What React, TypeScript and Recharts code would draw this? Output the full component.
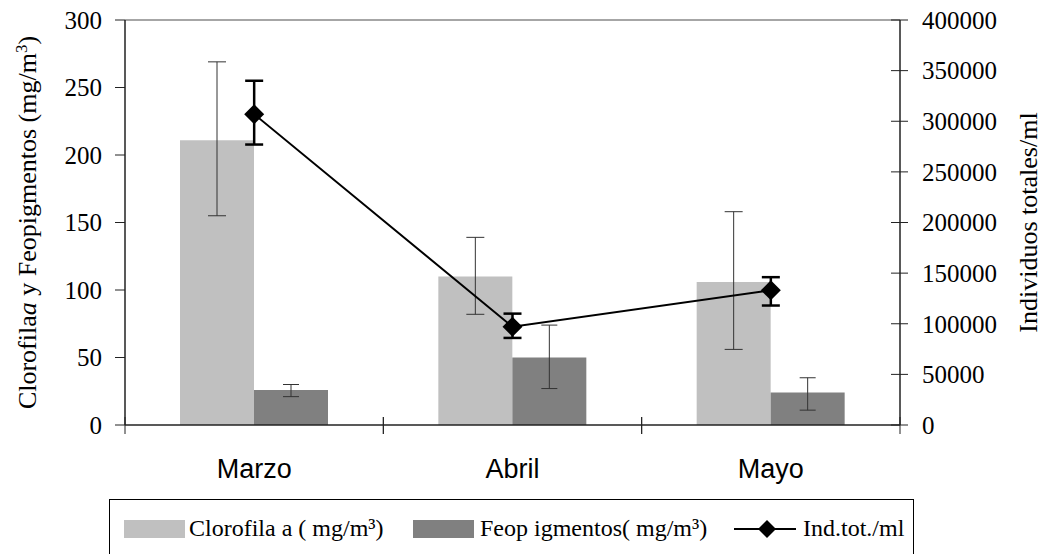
import {
  Bar,
  ComposedChart,
  ErrorBar,
  Line,
  ReferenceLine,
  XAxis,
  YAxis
} from 'recharts';

const months = ['Marzo', 'Abril', 'Mayo'];

// clorofila a (mg/m3) con sus barras de error (mín / máx)
const clorofila = [211, 110, 106];
const clorofilaLow = [155, 82, 56];
const clorofilaHigh = [269, 139, 158];

// feopigmentos (mg/m3)
const feopigmentos = [26, 50, 24];
const feoLow = [21, 27, 11];
const feoHigh = [30, 74, 35];

// individuos totales / ml
const individuos = [307000, 97000, 133000];
const indLow = [277000, 86000, 118000];
const indHigh = [340000, 110000, 146000];

const leftTicks = [0, 50, 100, 150, 200, 250, 300];
const rightTicks = [0, 50000, 100000, 150000, 200000, 250000, 300000, 350000, 400000];

const data = months.map((month, i) => ({
  month,
  clo: clorofila[i],
  cloErr: [clorofila[i] - clorofilaLow[i], clorofilaHigh[i] - clorofila[i]],
  feo: feopigmentos[i],
  feoErr: [feopigmentos[i] - feoLow[i], feoHigh[i] - feopigmentos[i]],
  ind: individuos[i],
  indErr: [individuos[i] - indLow[i], indHigh[i] - individuos[i]]
}));

const SERIF = '"Liberation Serif", "Times New Roman", serif';
const SANS = '"Liberation Sans", Arial, sans-serif';
const AXIS = '#222';

function diamondPoints(cx: number, cy: number, r: number) {
  return `${cx},${cy - r} ${cx + r},${cy} ${cx},${cy + r} ${cx - r},${cy}`;
}

// recharts le pasa r=3 al dot, así que el tamaño va fijo aquí
function Diamond(props: any) {
  const { cx, cy } = props;
  if (cx == null || cy == null) return null;
  return <polygon key={`d-${cx}`} points={diamondPoints(cx, cy, 10)} fill="#000" />;
}

function MonthTick(props: any) {
  const { x, y, payload } = props;
  const half = payload.offset ?? 0;
  return (
    <g>
      <line x1={x - half} x2={x - half} y1={y - 8} y2={y + 9} stroke={AXIS} />
      <line x1={x + half} x2={x + half} y1={y - 8} y2={y + 9} stroke={AXIS} />
      <text x={x} y={y + 53} textAnchor="middle" fontFamily={SANS} fontSize={27} fill="#000">
        {payload.value}
      </text>
    </g>
  );
}

function RightTick(props: any) {
  const { x, y, payload } = props;
  // el eje está 22px a la izquierda del texto (tickSize + tickMargin)
  const axisX = x - 22;
  return (
    <g>
      <line x1={axisX - 9} x2={axisX + 8} y1={y} y2={y} stroke={AXIS} />
      <text x={x} y={y} dy="0.35em" textAnchor="start" fontFamily={SERIF} fontSize={25} fill="#000">
        {payload.value}
      </text>
    </g>
  );
}

function LeftTitle(props: any) {
  const { viewBox } = props;
  const cx = viewBox.x + 27;
  const cy = viewBox.y + viewBox.height / 2;
  return (
    <text
      x={cx}
      y={cy}
      dy="0.35em"
      textAnchor="middle"
      transform={`rotate(-90, ${cx}, ${cy})`}
      fontFamily={SERIF}
      fontSize={26}
      fill="#000"
    >
      Clorofila<tspan fontStyle="italic">a</tspan>
      {'  y  Feopigmentos (mg/m'}
      <tspan baselineShift="super" fontSize={17}>3</tspan>
      <tspan>)</tspan>
    </text>
  );
}

function RightTitle(props: any) {
  const { viewBox } = props;
  const cx = viewBox.x + 128;
  const cy = viewBox.y + viewBox.height / 2;
  return (
    <text
      x={cx}
      y={cy}
      dy="0.35em"
      textAnchor="middle"
      transform={`rotate(-90, ${cx}, ${cy})`}
      fontFamily={SERIF}
      fontSize={26}
      fill="#000"
    >
      Individuos totales/ml
    </text>
  );
}

export default function App() {
  return (
    <div style={{ position: 'absolute', left: 0, top: 0, width: 1045, height: 554, background: '#fff', overflow: 'hidden' }}>
      <ComposedChart
        width={1045}
        height={554}
        data={data}
        margin={{ top: 20, right: 0, bottom: 69, left: 0 }}
        barGap={0}
      >
        <XAxis
          dataKey="month"
          height={60}
          tickLine={false}
          tickSize={0}
          tickMargin={0}
          axisLine={{ stroke: AXIS, strokeWidth: 1.5 }}
          tick={<MonthTick />}
          interval={0}
        />
        <YAxis
          yAxisId="left"
          width={125}
          domain={[0, 300]}
          ticks={leftTicks}
          tickSize={10}
          tickMargin={13}
          axisLine={{ stroke: AXIS, strokeWidth: 1.5 }}
          tickLine={{ stroke: AXIS }}
          tick={{ fill: '#000', fontSize: 25, fontFamily: SERIF }}
          label={{ content: <LeftTitle /> }}
        />
        <YAxis
          yAxisId="right"
          orientation="right"
          width={145}
          domain={[0, 400000]}
          ticks={rightTicks}
          tickSize={8}
          tickMargin={14}
          tickLine={false}
          axisLine={{ stroke: AXIS, strokeWidth: 1.5 }}
          tick={<RightTick />}
          label={{ content: <RightTitle /> }}
        />
        <ReferenceLine yAxisId="left" y={300} stroke="#888" strokeWidth={1.5} />
        <Bar yAxisId="left" dataKey="clo" name="Clorofila a ( mg/m³)" fill="#C0C0C0" barSize={74} isAnimationActive={false}>
          <ErrorBar dataKey="cloErr" direction="y" width={9} stroke="#333" strokeWidth={1} />
        </Bar>
        <Bar yAxisId="left" dataKey="feo" name="Feopigmentos( mg/m³)" fill="#808080" barSize={74} isAnimationActive={false}>
          <ErrorBar dataKey="feoErr" direction="y" width={8} stroke="#333" strokeWidth={1} />
        </Bar>
        <Line
          yAxisId="right"
          dataKey="ind"
          name="Ind.tot./ml"
          type="linear"
          stroke="#000"
          strokeWidth={2}
          dot={<Diamond />}
          activeDot={false}
          isAnimationActive={false}
        >
          <ErrorBar dataKey="indErr" direction="y" width={9} stroke="#000" strokeWidth={2.5} />
        </Line>
      </ComposedChart>

      <div
        style={{
          position: 'absolute',
          left: 109,
          top: 499,
          width: 805,
          height: 60,
          border: '1px solid #000',
          boxSizing: 'border-box',
          fontFamily: SERIF,
          fontSize: 24,
          color: '#000'
        }}
      >
        <div style={{ position: 'absolute', left: 14, top: 20, width: 61, height: 18, background: '#C0C0C0' }} />
        <div style={{ position: 'absolute', left: 79, top: 14, lineHeight: '28px', whiteSpace: 'nowrap' }}>
          Clorofila a ( mg/m³)
        </div>
        <div style={{ position: 'absolute', left: 303, top: 20, width: 61, height: 18, background: '#808080' }} />
        <div style={{ position: 'absolute', left: 370, top: 14, lineHeight: '28px', whiteSpace: 'nowrap' }}>
          Feop igmentos( mg/m³)
        </div>
        <svg style={{ position: 'absolute', left: 624, top: 18 }} width={62} height={22}>
          <line x1={0} x2={62} y1={11} y2={11} stroke="#000" strokeWidth={2} />
          <polygon points={diamondPoints(33, 11, 9)} fill="#000" />
        </svg>
        <div style={{ position: 'absolute', left: 693, top: 14, lineHeight: '28px', whiteSpace: 'nowrap' }}>
          Ind.tot./ml
        </div>
      </div>
    </div>
  );
}
